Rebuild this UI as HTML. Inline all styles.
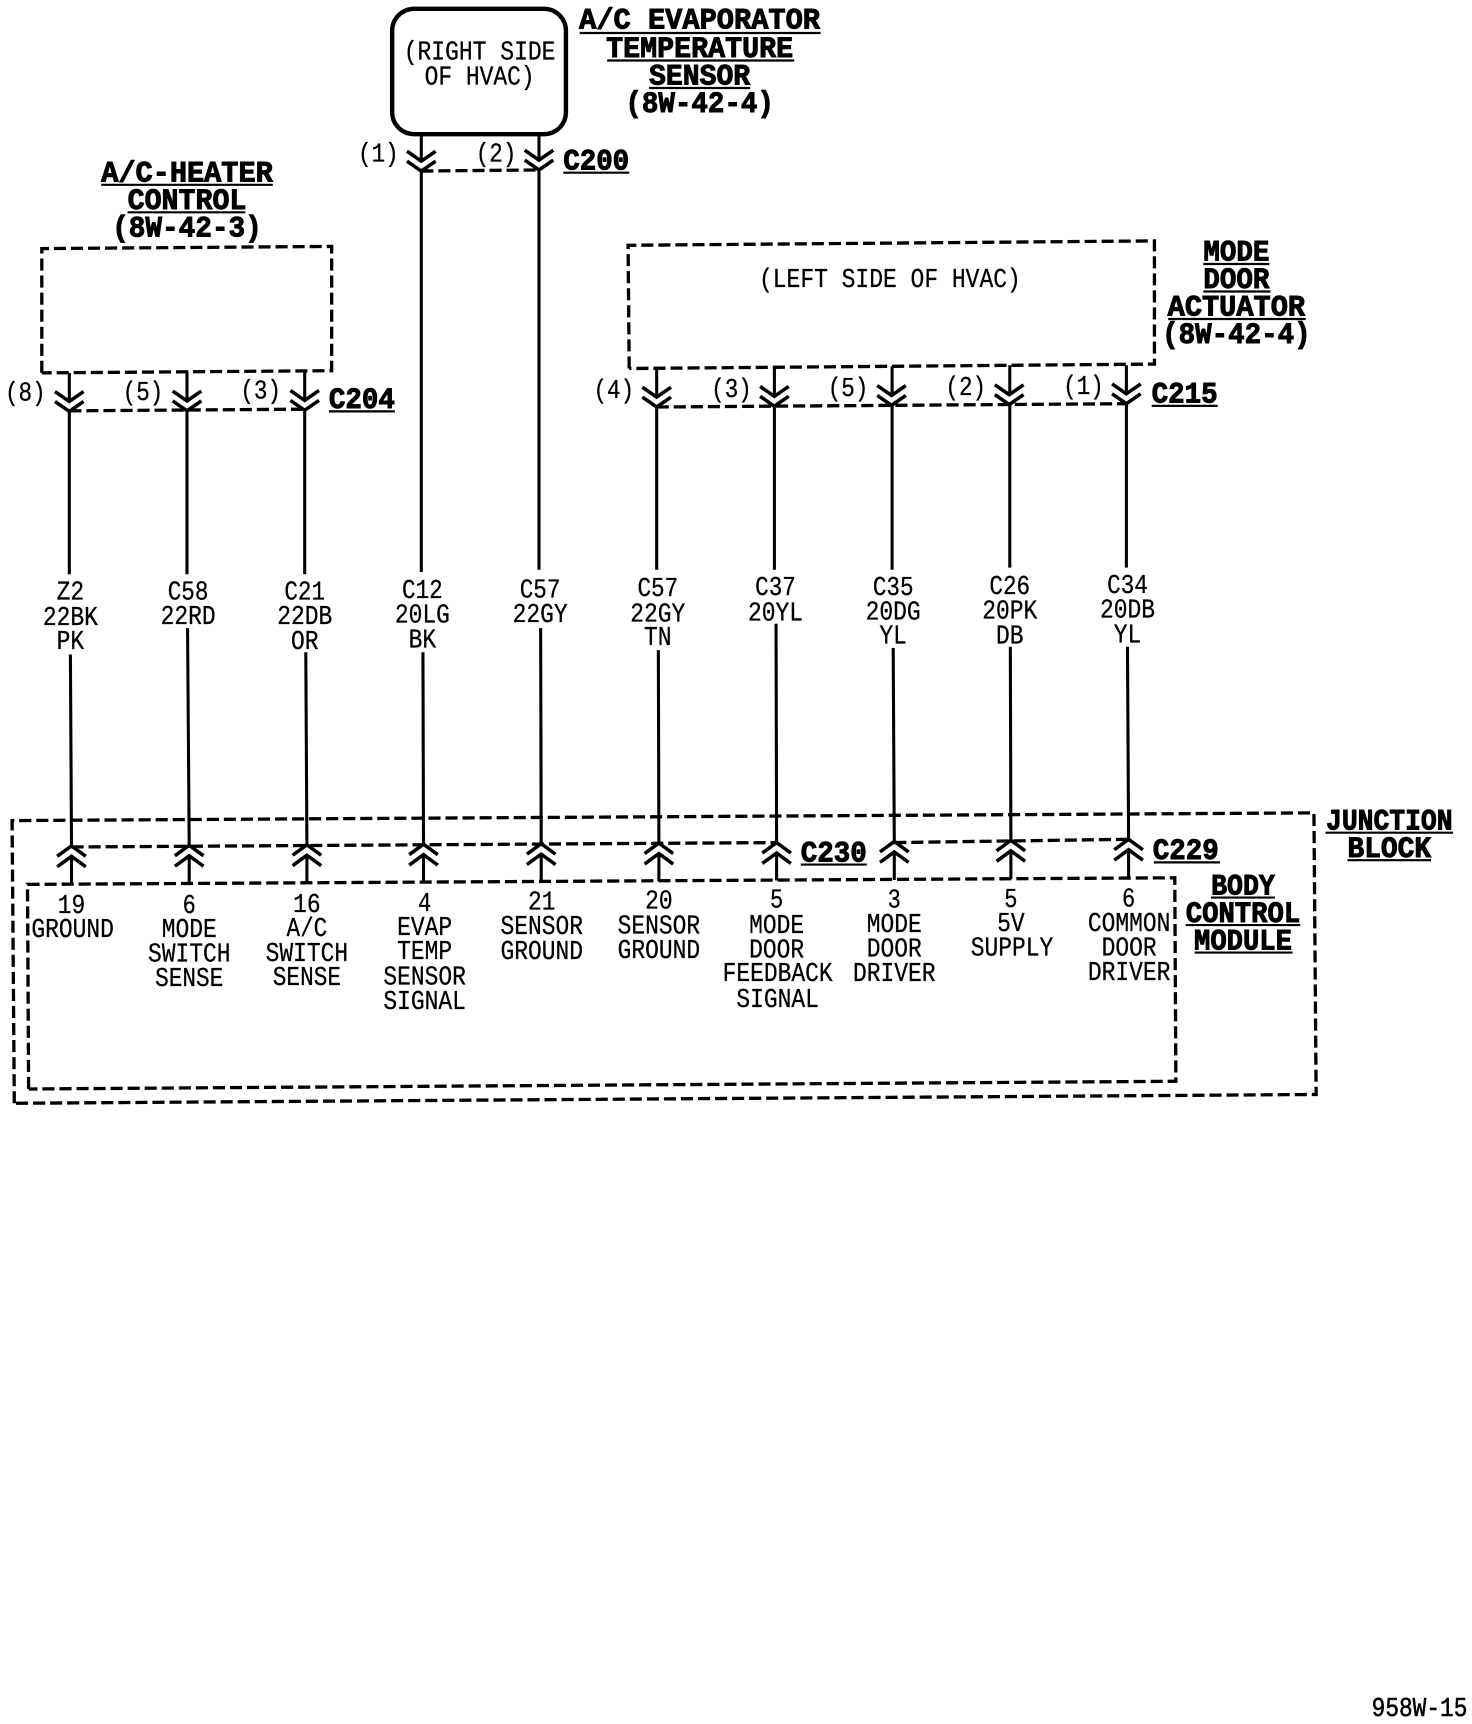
<!DOCTYPE html>
<html><head><meta charset="utf-8"><style>
html,body{margin:0;padding:0;background:#fff}
svg{display:block}
text{font-family:"Liberation Mono",monospace;fill:#000;text-anchor:middle}
.t{font-size:24px;stroke:#000;stroke-width:.25px}
.b{font-size:27px;font-weight:bold;stroke:#000;stroke-width:.9px}
.w{stroke:#000;stroke-width:2.8;fill:none}
.d{stroke:#000;stroke-width:3;fill:none;stroke-dasharray:11 4.5}
.u{stroke:#000;stroke-width:2;fill:none}
</style></head><body>
<svg width="1472" height="1724" viewBox="0 0 1338.2 1567.3" xmlns="http://www.w3.org/2000/svg">
<defs>
<path id="dn" d="M-13-9L0 0L13-9M-13 0L0 9L13 0" stroke="#000" stroke-width="3.2" fill="none"/>
<path id="up" d="M-13 9.5L0 0L13 9.5M-13 19L0 9.5L13 19" stroke="#000" stroke-width="3.2" fill="none"/>
</defs>
<rect width="1338.2" height="1567.3" fill="#fff"/>

<!-- sensor box -->
<rect x="356.500" y="8" width="158" height="114" rx="20" ry="20" stroke="#000" stroke-width="4" fill="none"/>
<text class="t" x="436" y="54" textLength="138" lengthAdjust="spacingAndGlyphs">(RIGHT SIDE</text>
<text class="t" x="436" y="77" textLength="100" lengthAdjust="spacingAndGlyphs">OF HVAC)</text>

<text class="b" x="636" y="26" textLength="219" lengthAdjust="spacingAndGlyphs">A/C EVAPORATOR</text>
<text class="b" x="636" y="52" textLength="170" lengthAdjust="spacingAndGlyphs">TEMPERATURE</text>
<text class="b" x="636" y="77" textLength="92" lengthAdjust="spacingAndGlyphs">SENSOR</text>
<text class="b" x="636" y="102" textLength="135" lengthAdjust="spacingAndGlyphs">(8W-42-4)</text>
<path class="u" d="M527 30H746M552 55H722M590 80H682"/>

<!-- C200 -->
<path class="w" d="M383 122V147M383 156V520M490 122V146M490 155V518"/>
<use href="#dn" x="383" y="146.500"/><use href="#dn" x="490" y="145.500"/>
<path class="d" d="M383 155.500L490 154.500"/>
<text class="t" x="344" y="147" textLength="37" lengthAdjust="spacingAndGlyphs">(1)</text>
<text class="t" x="451" y="147" textLength="37" lengthAdjust="spacingAndGlyphs">(2)</text>
<text class="b" x="542" y="154" textLength="60" lengthAdjust="spacingAndGlyphs">C200</text>
<path class="u" d="M512 157H572"/>

<!-- A/C heater control -->
<text class="b" x="170" y="165" textLength="156" lengthAdjust="spacingAndGlyphs">A/C-HEATER</text>
<text class="b" x="170" y="190" textLength="108" lengthAdjust="spacingAndGlyphs">CONTROL</text>
<text class="b" x="170" y="215" textLength="136" lengthAdjust="spacingAndGlyphs">(8W-42-3)</text>
<path class="u" d="M92 168H248M116 193H223"/>
<path class="d" d="M38 339V226L301.500 224V337L38 339"/>
<path class="w" d="M63 339V365M63 374V522M170 338V364M170 373V522M277 337V364M277 373V522"/>
<use href="#dn" x="63" y="365"/><use href="#dn" x="170" y="364.500"/><use href="#dn" x="277" y="364"/>
<path class="d" d="M63 373.500L277 372"/>
<text class="t" x="23" y="364" textLength="37" lengthAdjust="spacingAndGlyphs">(8)</text>
<text class="t" x="130" y="363.500" textLength="37" lengthAdjust="spacingAndGlyphs">(5)</text>
<text class="t" x="237" y="362.500" textLength="37" lengthAdjust="spacingAndGlyphs">(3)</text>
<text class="b" x="329" y="371" textLength="60" lengthAdjust="spacingAndGlyphs">C204</text>
<path class="u" d="M299 374H359"/>

<!-- mode door actuator -->
<path class="d" d="M572 335L571 223L1049.500 219V331L572 335"/>
<text class="t" x="809" y="261" textLength="238" lengthAdjust="spacingAndGlyphs">(LEFT SIDE OF HVAC)</text>
<text class="b" x="1124" y="237" textLength="60" lengthAdjust="spacingAndGlyphs">MODE</text>
<text class="b" x="1124" y="262" textLength="60" lengthAdjust="spacingAndGlyphs">DOOR</text>
<text class="b" x="1124" y="287" textLength="125" lengthAdjust="spacingAndGlyphs">ACTUATOR</text>
<text class="b" x="1124" y="312" textLength="135" lengthAdjust="spacingAndGlyphs">(8W-42-4)</text>
<path class="u" d="M1094 240H1154M1094 265H1155M1062 290H1187"/>
<path class="w" d="M597 335V361M597 370V518M704 334V360M704 369V518M811 333V360M811 369V518M918 332V359M918 368V516M1024 332V358M1024 367V516"/>
<use href="#dn" x="597" y="361"/><use href="#dn" x="704" y="360.300"/><use href="#dn" x="810.500" y="359.500"/><use href="#dn" x="917.500" y="358.800"/><use href="#dn" x="1024" y="358"/>
<path class="d" d="M597 370L1024 367"/>
<text class="t" x="558" y="362" textLength="37" lengthAdjust="spacingAndGlyphs">(4)</text>
<text class="t" x="665" y="361" textLength="37" lengthAdjust="spacingAndGlyphs">(3)</text>
<text class="t" x="771" y="360" textLength="37" lengthAdjust="spacingAndGlyphs">(5)</text>
<text class="t" x="878" y="359" textLength="37" lengthAdjust="spacingAndGlyphs">(2)</text>
<text class="t" x="985" y="358" textLength="37" lengthAdjust="spacingAndGlyphs">(1)</text>
<text class="b" x="1077" y="366" textLength="60" lengthAdjust="spacingAndGlyphs">C215</text>
<path class="u" d="M1047 369H1107"/>

<!-- wire labels -->
<text class="t" x="64" y="545" textLength="25" lengthAdjust="spacingAndGlyphs">Z2</text>
<text class="t" x="64" y="568" textLength="50" lengthAdjust="spacingAndGlyphs">22BK</text>
<text class="t" x="64" y="590" textLength="25" lengthAdjust="spacingAndGlyphs">PK</text>
<text class="t" x="171" y="545" textLength="37" lengthAdjust="spacingAndGlyphs">C58</text>
<text class="t" x="171" y="567.500" textLength="50" lengthAdjust="spacingAndGlyphs">22RD</text>
<text class="t" x="277" y="545" textLength="37" lengthAdjust="spacingAndGlyphs">C21</text>
<text class="t" x="277" y="567.500" textLength="50" lengthAdjust="spacingAndGlyphs">22DB</text>
<text class="t" x="277" y="590" textLength="25" lengthAdjust="spacingAndGlyphs">OR</text>
<text class="t" x="384" y="543.500" textLength="37" lengthAdjust="spacingAndGlyphs">C12</text>
<text class="t" x="384" y="566" textLength="50" lengthAdjust="spacingAndGlyphs">20LG</text>
<text class="t" x="384" y="588.500" textLength="25" lengthAdjust="spacingAndGlyphs">BK</text>
<text class="t" x="491" y="543" textLength="37" lengthAdjust="spacingAndGlyphs">C57</text>
<text class="t" x="491" y="565.500" textLength="50" lengthAdjust="spacingAndGlyphs">22GY</text>
<text class="t" x="598" y="542" textLength="37" lengthAdjust="spacingAndGlyphs">C57</text>
<text class="t" x="598" y="565" textLength="50" lengthAdjust="spacingAndGlyphs">22GY</text>
<text class="t" x="598" y="586.500" textLength="25" lengthAdjust="spacingAndGlyphs">TN</text>
<text class="t" x="705" y="541" textLength="37" lengthAdjust="spacingAndGlyphs">C37</text>
<text class="t" x="705" y="564" textLength="50" lengthAdjust="spacingAndGlyphs">20YL</text>
<text class="t" x="812" y="541" textLength="37" lengthAdjust="spacingAndGlyphs">C35</text>
<text class="t" x="812" y="563" textLength="50" lengthAdjust="spacingAndGlyphs">20DG</text>
<text class="t" x="812" y="585" textLength="25" lengthAdjust="spacingAndGlyphs">YL</text>
<text class="t" x="918" y="540" textLength="37" lengthAdjust="spacingAndGlyphs">C26</text>
<text class="t" x="918" y="562.500" textLength="50" lengthAdjust="spacingAndGlyphs">20PK</text>
<text class="t" x="918" y="585" textLength="25" lengthAdjust="spacingAndGlyphs">DB</text>
<text class="t" x="1025" y="539" textLength="37" lengthAdjust="spacingAndGlyphs">C34</text>
<text class="t" x="1025" y="561.500" textLength="50" lengthAdjust="spacingAndGlyphs">20DB</text>
<text class="t" x="1025" y="584" textLength="25" lengthAdjust="spacingAndGlyphs">YL</text>

<!-- lower wires -->
<path class="w" d="M64 595L65 769M65 778.500V803.500M170.500 571L172 768.500M172 778V803M278 593L279 768M279 777.500V802.500M384.500 593L385 767.500M385 777V802M491.500 571L492 767M492 776.500V801.500M598.500 591L599 766.500M599 776V801M705.500 567L706 766M706 775.500V800.500M812 589L813 765M813 774.500V800M918.500 588L919 764M919 773.500V799M1025 588L1026 763M1026 772.500V798"/>
<use href="#up" x="65" y="769"/><use href="#up" x="172" y="768.500"/><use href="#up" x="279" y="768"/><use href="#up" x="385" y="767.500"/><use href="#up" x="492" y="767"/><use href="#up" x="599" y="766.500"/><use href="#up" x="706" y="766"/><use href="#up" x="813" y="765"/><use href="#up" x="919" y="764"/><use href="#up" x="1026" y="763"/>
<path class="d" d="M65 770L706 766M813 766L1026 763"/>

<!-- junction block / BCM -->
<path class="d" d="M13 1003L11 746L1194.500 739L1196.500 995L13 1003"/>
<path class="d" d="M26 990L25 804L1068 798L1069 983L26 990"/>
<text class="b" x="758" y="783" textLength="60" lengthAdjust="spacingAndGlyphs">C230</text>
<path class="u" d="M728 786H788"/>
<text class="b" x="1078" y="781" textLength="60" lengthAdjust="spacingAndGlyphs">C229</text>
<path class="u" d="M1049 784H1109"/>
<text class="b" x="1263" y="754" textLength="115" lengthAdjust="spacingAndGlyphs">JUNCTION</text>
<text class="b" x="1263" y="779" textLength="76" lengthAdjust="spacingAndGlyphs">BLOCK</text>
<path class="u" d="M1205 757H1321M1225 782H1301"/>
<text class="b" x="1130" y="813" textLength="58" lengthAdjust="spacingAndGlyphs">BODY</text>
<text class="b" x="1130" y="838" textLength="104" lengthAdjust="spacingAndGlyphs">CONTROL</text>
<text class="b" x="1130" y="863" textLength="89" lengthAdjust="spacingAndGlyphs">MODULE</text>
<path class="u" d="M1101 816H1159M1078 841H1182M1086 866H1175"/>

<!-- pin labels -->
<text class="t" x="65" y="830" textLength="25" lengthAdjust="spacingAndGlyphs">19</text>
<text class="t" x="66" y="852" textLength="75" lengthAdjust="spacingAndGlyphs">GROUND</text>
<text class="t" x="172" y="830" textLength="12" lengthAdjust="spacingAndGlyphs">6</text>
<text class="t" x="172" y="852" textLength="50" lengthAdjust="spacingAndGlyphs">MODE</text>
<text class="t" x="172" y="874" textLength="75" lengthAdjust="spacingAndGlyphs">SWITCH</text>
<text class="t" x="172" y="896.500" textLength="62" lengthAdjust="spacingAndGlyphs">SENSE</text>
<text class="t" x="279" y="829" textLength="25" lengthAdjust="spacingAndGlyphs">16</text>
<text class="t" x="279" y="851" textLength="37" lengthAdjust="spacingAndGlyphs">A/C</text>
<text class="t" x="279" y="873.500" textLength="75" lengthAdjust="spacingAndGlyphs">SWITCH</text>
<text class="t" x="279" y="895.500" textLength="62" lengthAdjust="spacingAndGlyphs">SENSE</text>
<text class="t" x="386" y="828" textLength="12" lengthAdjust="spacingAndGlyphs">4</text>
<text class="t" x="386" y="850" textLength="50" lengthAdjust="spacingAndGlyphs">EVAP</text>
<text class="t" x="386" y="872" textLength="50" lengthAdjust="spacingAndGlyphs">TEMP</text>
<text class="t" x="386" y="895" textLength="75" lengthAdjust="spacingAndGlyphs">SENSOR</text>
<text class="t" x="386" y="917.500" textLength="75" lengthAdjust="spacingAndGlyphs">SIGNAL</text>
<text class="t" x="492.500" y="827" textLength="25" lengthAdjust="spacingAndGlyphs">21</text>
<text class="t" x="492.500" y="849" textLength="75" lengthAdjust="spacingAndGlyphs">SENSOR</text>
<text class="t" x="492.500" y="872" textLength="75" lengthAdjust="spacingAndGlyphs">GROUND</text>
<text class="t" x="599" y="826" textLength="25" lengthAdjust="spacingAndGlyphs">20</text>
<text class="t" x="599" y="848.500" textLength="75" lengthAdjust="spacingAndGlyphs">SENSOR</text>
<text class="t" x="599" y="871" textLength="75" lengthAdjust="spacingAndGlyphs">GROUND</text>
<text class="t" x="706" y="825" textLength="12" lengthAdjust="spacingAndGlyphs">5</text>
<text class="t" x="706" y="848" textLength="50" lengthAdjust="spacingAndGlyphs">MODE</text>
<text class="t" x="706" y="870.500" textLength="50" lengthAdjust="spacingAndGlyphs">DOOR</text>
<text class="t" x="707" y="892" textLength="100" lengthAdjust="spacingAndGlyphs">FEEDBACK</text>
<text class="t" x="707" y="915.500" textLength="75" lengthAdjust="spacingAndGlyphs">SIGNAL</text>
<text class="t" x="813" y="825" textLength="12" lengthAdjust="spacingAndGlyphs">3</text>
<text class="t" x="813" y="847.500" textLength="50" lengthAdjust="spacingAndGlyphs">MODE</text>
<text class="t" x="813" y="869.500" textLength="50" lengthAdjust="spacingAndGlyphs">DOOR</text>
<text class="t" x="813" y="892" textLength="75" lengthAdjust="spacingAndGlyphs">DRIVER</text>
<text class="t" x="919" y="824.500" textLength="12" lengthAdjust="spacingAndGlyphs">5</text>
<text class="t" x="919" y="846.500" textLength="25" lengthAdjust="spacingAndGlyphs">5V</text>
<text class="t" x="920" y="868.500" textLength="75" lengthAdjust="spacingAndGlyphs">SUPPLY</text>
<text class="t" x="1026" y="824" textLength="12" lengthAdjust="spacingAndGlyphs">6</text>
<text class="t" x="1026.500" y="846.500" textLength="75" lengthAdjust="spacingAndGlyphs">COMMON</text>
<text class="t" x="1026.500" y="868.500" textLength="50" lengthAdjust="spacingAndGlyphs">DOOR</text>
<text class="t" x="1026.500" y="891" textLength="75" lengthAdjust="spacingAndGlyphs">DRIVER</text>

<text class="t" x="1290.500" y="1560" textLength="87" lengthAdjust="spacingAndGlyphs" style="stroke-width:.5px">958W-15</text>
</svg>
</body></html>
